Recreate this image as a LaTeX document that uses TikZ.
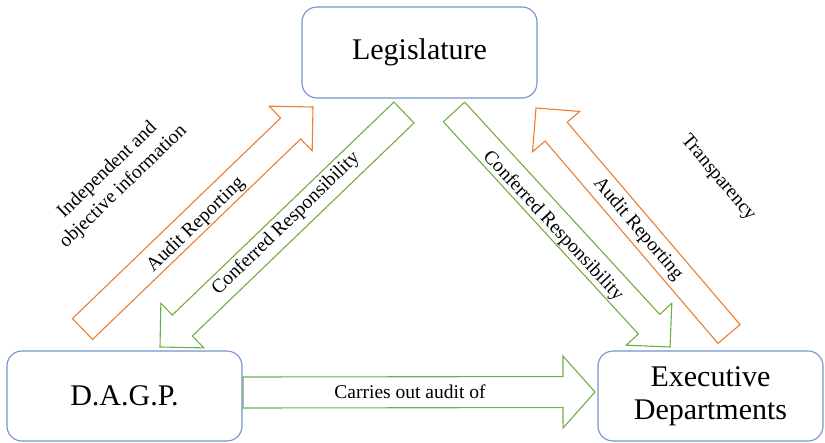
\documentclass[tikz,border=0pt]{standalone}
\usepackage{fontspec}
\setmainfont{Liberation Serif}
\usetikzlibrary{calc}
\definecolor{boxblue}{RGB}{114,147,203}
\definecolor{arrorange}{RGB}{237,125,49}
\definecolor{arrgreen}{RGB}{112,173,71}
% #1 style, #2 start, #3 tip, #4 half shaft width, #5 half head width, #6 head length
\newcommand\blockarrow[6]{%
  \coordinate (#2-#3-b) at ($(#3)!#6!(#2)$);
  \draw[#1] ($(#2)!#4!90:(#3)$) -- ($(#2-#3-b)!#4!90:(#3)$) -- ($(#2-#3-b)!#5!90:(#3)$)
    -- (#3) -- ($(#2-#3-b)!#5!-90:(#3)$) -- ($(#2-#3-b)!#4!-90:(#3)$) -- ($(#2)!#4!-90:(#3)$) -- cycle;
}
\begin{document}
\begin{tikzpicture}[x=1pt,y=-1pt,
  box/.style={draw=boxblue, line width=1.1pt, rounded corners=15pt, fill=white, inner sep=0pt,
    align=center, font=\fontsize{30}{33}\selectfont},
  orangearrow/.style={draw=arrorange, line width=1.1pt, line join=miter},
  greenarrow/.style={draw=arrgreen, line width=1.1pt, line join=miter},
  lbl/.style={inner sep=0pt, align=center, font=\fontsize{19.5}{23}\selectfont}]
\useasboundingbox (0,0) rectangle (825,442);

% arrow end points
\coordinate (oLs) at (82.5,329);  \coordinate (oLe) at (313,107);
\coordinate (gLs) at (404,112.5); \coordinate (gLe) at (160,347);
\coordinate (gRs) at (454,112);   \coordinate (gRe) at (670,347);
\coordinate (oRs) at (729,334);   \coordinate (oRe) at (536,108);
\coordinate (bs)  at (243,392.5); \coordinate (be)  at (595,392);

\blockarrow{orangearrow}{oLs}{oLe}{14.5pt}{31pt}{31pt}
\blockarrow{greenarrow}{gLs}{gLe}{14.5pt}{31pt}{31pt}
\blockarrow{greenarrow}{gRs}{gRe}{14.5pt}{31pt}{31pt}
\blockarrow{orangearrow}{oRs}{oRe}{14.5pt}{31pt}{31pt}
\blockarrow{greenarrow}{bs}{be}{15.5pt}{36pt}{32pt}

% boxes
\node[box, minimum width=235pt, minimum height=91pt] (leg) at (419.5,52.5) {Legislature};
\node[box, minimum width=235pt, minimum height=90pt] (dagp) at (124.5,396) {D.A.G.P.};
\node[box, minimum width=225pt, minimum height=90pt] (exec) at (710.5,396) {Executive\\Departments};

% labels
\node[lbl, rotate=44] (t1) at (196,225) {Audit Reporting};
\node[lbl, rotate=44] (t2) at (286,224) {Conferred Responsibility};
\node[lbl, rotate=-47] (t3) at (553,226) {Conferred Responsibility};
\node[lbl, rotate=-49.5] (t4) at (638,229) {Audit Reporting};
\node[lbl, rotate=-50] (t5) at (718,178) {Transparency};
\node[lbl, rotate=44] (t6) at (115.5,178.5) {Independent and\\objective information};
\node[lbl] (t7) at (410,392) {Carries out audit of};
\end{tikzpicture}
\end{document}
